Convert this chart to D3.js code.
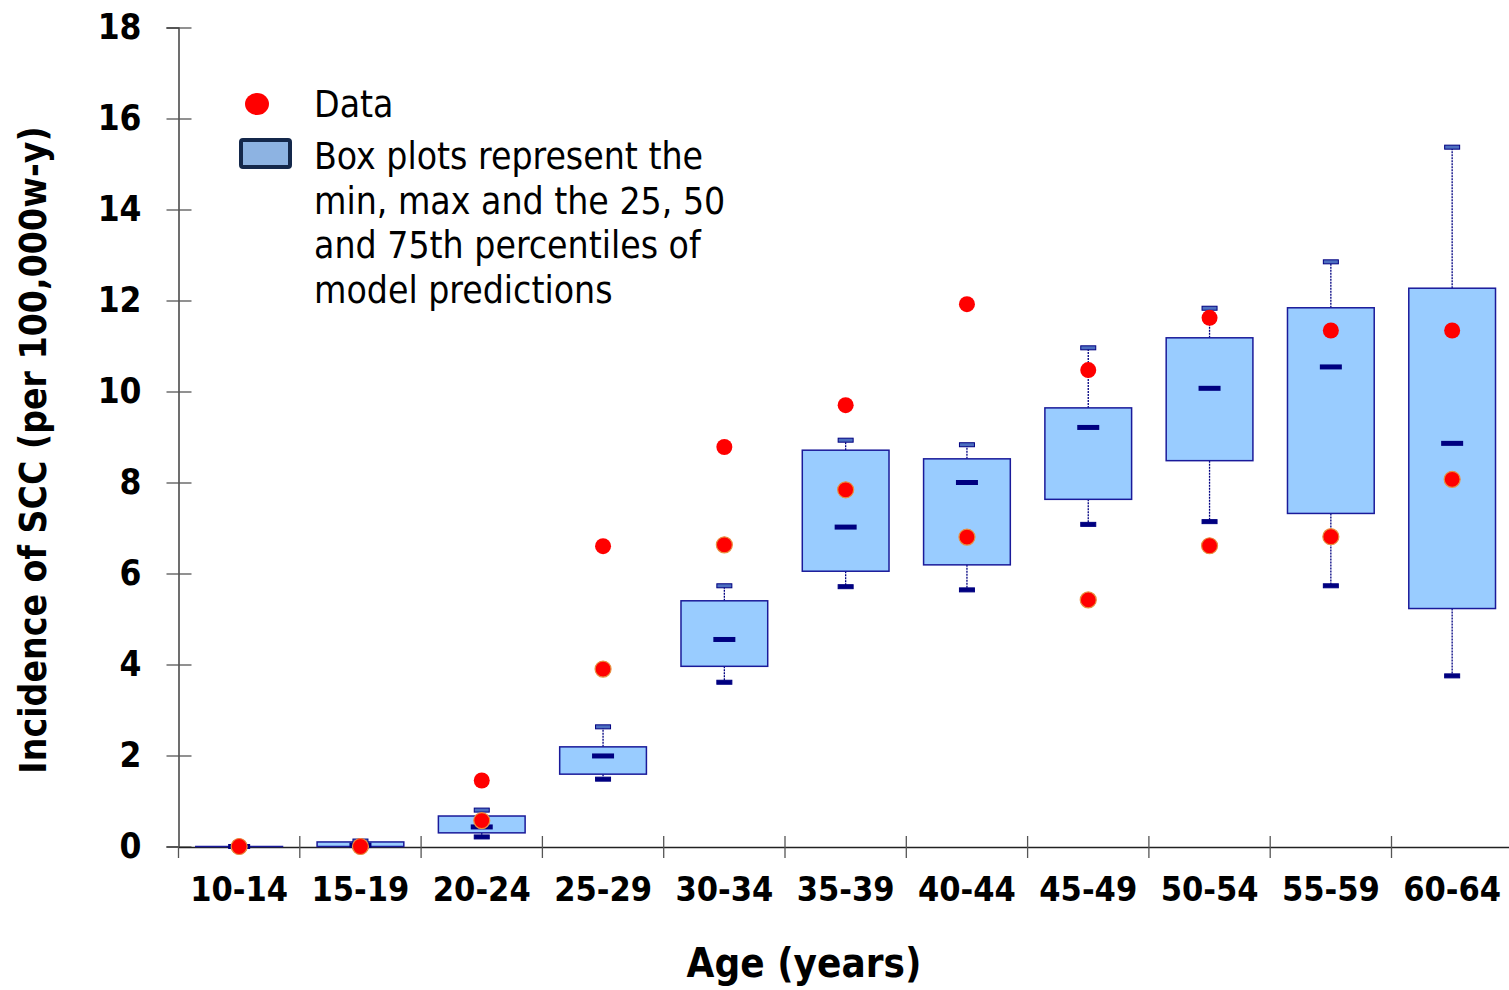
<!DOCTYPE html>
<html><head><meta charset="utf-8">
<script src="https://cdn.jsdelivr.net/npm/d3@7"></script>
<style>
html,body{margin:0;padding:0;background:#fff;}
svg{display:block;}
text{font-family:"DejaVu Sans Condensed","DejaVu Sans",sans-serif;font-stretch:condensed;}
</style></head>
<body>
<svg id="chart" width="1509" height="990"></svg>
<script>
const categories = ["10-14","15-19","20-24","25-29","30-34","35-39","40-44","45-49","50-54","55-59","60-64"];
const boxMin    = [0.00, 0.00, 0.21, 1.48, 3.61, 5.71, 5.64, 7.08, 7.14, 5.73, 3.75];
const boxQ1     = [0.00, 0.00, 0.30, 1.59, 3.96, 6.05, 6.19, 7.63, 8.48, 7.32, 5.23];
const boxMedian = [0.00, 0.03, 0.43, 1.99, 4.55, 7.02, 8.00, 9.21, 10.07, 10.54, 8.86];
const boxQ3     = [0.00, 0.10, 0.67, 2.19, 5.40, 8.71, 8.52, 9.64, 11.18, 11.84, 12.27];
const boxMax    = [0.00, 0.12, 0.80, 2.63, 5.73, 8.93, 8.83, 10.96, 11.83, 12.85, 15.37];
const dataHigh  = [0.00, 0.00, 1.45, 6.60, 8.78, 9.70, 11.92, 10.47, 11.62, 11.34, 11.34];
const dataLow   = [0.00, 0.00, 0.57, 3.90, 6.63, 7.84, 6.80, 5.42, 6.61, 6.81, 8.07];
const yTicks    = [0, 2, 4, 6, 8, 10, 12, 14, 16, 18];
const legendLines = ["Box plots represent the", "min, max and the 25, 50", "and 75th percentiles of", "model predictions"];

const svg = d3.select("#chart");
const x = d3.scaleBand().domain(categories).range([178.5, 1512.8]).padding(0);
const y = d3.scaleLinear().domain([0, 18]).range([846.5, 27.5]);
const boxW = x.bandwidth() * 0.715;
const cx = c => x(c) + x.bandwidth() / 2;

const navy = "#000080";

// Y axis
const yAxis = svg.append("g").attr("transform", "translate(178.5,0)")
  .call(d3.axisLeft(y).tickValues(yTicks).tickSize(12).tickPadding(25).tickFormat(d3.format("d")));
yAxis.select(".domain").attr("stroke", "#222").attr("stroke-width", 1.3);
yAxis.selectAll(".tick line").attr("x1", 13).attr("stroke", "#555").attr("stroke-width", 1.3);
yAxis.selectAll(".tick text").attr("font-size", 35).attr("font-weight", "bold").attr("fill", "#000")
  .style("font-family", '"DejaVu Sans Condensed","DejaVu Sans",sans-serif');

// X axis
const xAxis = svg.append("g").attr("transform", "translate(0,847)")
  .call(d3.axisBottom(x).tickSize(0).tickPadding(30));
xAxis.select(".domain").attr("d", `M178.5,0.5H1509`).attr("stroke", "#222").attr("stroke-width", 1.3);
xAxis.selectAll(".tick text").attr("font-size", 34).attr("font-weight", "bold").attr("fill", "#000")
  .style("font-family", '"DejaVu Sans Condensed","DejaVu Sans",sans-serif');
const bounds = categories.map(c => x(c)).concat([x.range()[1]]);
svg.append("g").selectAll("line").data(bounds.slice(1, 11)).join("line")
  .attr("x1", d => d).attr("x2", d => d).attr("y1", 836).attr("y2", 858)
  .attr("stroke", "#555").attr("stroke-width", 1.3);
svg.append("line").attr("x1", 178.5).attr("x2", 178.5).attr("y1", 846).attr("y2", 858)
  .attr("stroke", "#555").attr("stroke-width", 1.3);

// Axis titles
svg.append("text").attr("x", 804).attr("y", 977).attr("text-anchor", "middle")
  .attr("font-size", 40).attr("font-weight", "bold").text("Age (years)");
svg.append("text").attr("transform", "translate(46,450) rotate(-90)").attr("text-anchor", "middle")
  .attr("font-size", 37).attr("font-weight", "bold").text("Incidence of SCC (per 100,000w-y)");

// Boxes
const boxes = svg.append("g");
categories.forEach((c, i) => {
  const g = boxes.append("g");
  const xc = cx(c);
  // whiskers (dotted)
  g.append("line").attr("x1", xc).attr("x2", xc).attr("y1", y(boxQ3[i])).attr("y2", y(boxMax[i]))
    .attr("stroke", navy).attr("stroke-width", 1.3).attr("stroke-dasharray", "2,1");
  g.append("line").attr("x1", xc).attr("x2", xc).attr("y1", y(boxQ1[i])).attr("y2", y(boxMin[i]))
    .attr("stroke", navy).attr("stroke-width", 1.3).attr("stroke-dasharray", "2,1");
  // box
  g.append("rect").attr("x", xc - boxW / 2).attr("width", boxW)
    .attr("y", y(boxQ3[i])).attr("height", Math.max(0.01, y(boxQ1[i]) - y(boxQ3[i])))
    .attr("fill", "#99ccff").attr("stroke", "#1a1a9a").attr("stroke-width", 1.5);
  // caps
  g.append("rect").attr("x", xc - 7.5).attr("width", 15).attr("y", y(boxMax[i]) - 2).attr("height", 4)
    .attr("fill", "#4d6fc0").attr("stroke", navy).attr("stroke-width", 1);
  g.append("rect").attr("x", xc - 7.5).attr("width", 15).attr("y", y(boxMin[i]) - 2).attr("height", 4)
    .attr("fill", navy).attr("stroke", navy).attr("stroke-width", 1);
  // median
  g.append("rect").attr("x", xc - 11).attr("width", 22).attr("y", y(boxMedian[i]) - 2.5).attr("height", 5)
    .attr("fill", navy);
});

// Data points
svg.append("g").selectAll("circle").data(dataHigh).join("circle")
  .attr("cx", (d, i) => cx(categories[i])).attr("cy", d => y(d)).attr("r", 8)
  .attr("fill", "#ff0000");
svg.append("g").selectAll("circle").data(dataLow).join("circle")
  .attr("cx", (d, i) => cx(categories[i])).attr("cy", d => y(d)).attr("r", 8)
  .attr("fill", "#ff0000").attr("stroke", "#e89040").attr("stroke-width", 1.2);

// Legend
svg.append("ellipse").attr("cx", 257).attr("cy", 104).attr("rx", 12).attr("ry", 11).attr("fill", "#ff0000");
svg.append("rect").attr("x", 241).attr("y", 140).attr("width", 49).attr("height", 27)
  .attr("fill", "#8db3e2").attr("stroke", "#14284b").attr("stroke-width", 4).attr("rx", 2);
svg.append("text").attr("x", 314).attr("y", 117).attr("font-size", 37).text("Data");
svg.append("g").selectAll("text").data(legendLines).join("text")
  .attr("x", 314).attr("y", (d, i) => 169 + i * 44.7).attr("font-size", 37).text(d => d);
</script>
</body></html>
